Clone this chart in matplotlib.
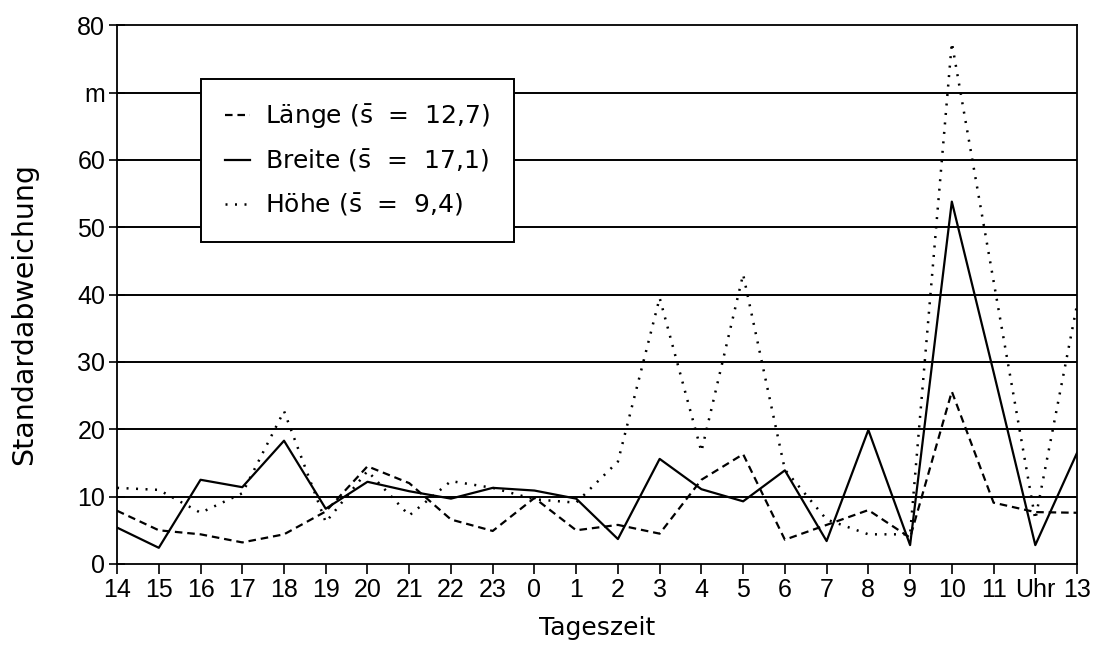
import matplotlib
matplotlib.use("Agg")
from matplotlib import pyplot as plt
import numpy as np

# Tageszeit labels (hour of day, "Uhr" stands in for 12)
hours = ['14', '15', '16', '17', '18', '19', '20', '21', '22', '23', '0', '1',
         '2', '3', '4', '5', '6', '7', '8', '9', '10', '11', 'Uhr', '13']

laenge = [7.9, 5.0, 4.4, 3.2, 4.4, 7.8, 14.5, 12.0, 6.6, 4.9, 9.8, 5.0,
          5.8, 4.5, 12.5, 16.3, 3.6, 5.8, 8.0, 3.9, 25.6, 9.1, 7.7, 7.6]
breite = [5.4, 2.4, 12.5, 11.4, 18.3, 8.2, 12.2, 10.8, 9.7, 11.3, 10.9, 9.7,
          3.7, 15.6, 11.1, 9.3, 13.9, 3.4, 19.9, 2.8, 53.8, 28.5, 2.8, 16.5]
hoehe = [11.3, 11.0, 7.6, 10.5, 22.7, 6.2, 13.8, 7.2, 12.3, 11.3, 9.6, 9.1,
         15.2, 39.5, 16.7, 43.0, 14.0, 6.6, 4.4, 4.4, 77.4, 42.0, 6.6, 38.5]

y_ticks = [0, 10, 20, 30, 40, 50, 60, 70, 80]
y_ticklabels = ['0', '10', '20', '30', '40', '50', '60', 'm', '80']

plt.rcParams['mathtext.fontset'] = 'dejavusans'

fig = plt.figure(figsize=(10.94, 6.46), dpi=100)
ax = fig.add_axes([0.107, 0.127, 0.8775, 0.834])

x = np.arange(len(hours))
ax.plot(x, laenge, color='black', lw=1.6, dashes=(3.4, 2.2),
        label=r'Länge ($\bar{\mathrm{s}}$  =  12,7)')
ax.plot(x, breite, color='black', lw=1.6, linestyle='-',
        label=r'Breite ($\bar{\mathrm{s}}$  =  17,1)')
ax.plot(x, hoehe, color='black', lw=1.8, dashes=(0.8, 3.0),
        label=r'Höhe ($\bar{\mathrm{s}}$  =  9,4)')

for yv in y_ticks[1:-1]:
    ax.axhline(yv, color='black', lw=1.4, zorder=0)

ax.set_xlim(0, len(hours) - 1)
ax.set_ylim(0, 80)
ax.set_xticks(x)
ax.set_xticklabels(hours, family='Liberation Sans')
ax.set_yticks(y_ticks)
ax.set_yticklabels(y_ticklabels, family='Liberation Sans')
ax.tick_params(axis='y', direction='inout', length=11, width=1.2,
               labelsize=18, pad=3)
ax.tick_params(axis='x', direction='out', length=7, width=1.2,
               labelsize=18, pad=3)
for sp in ax.spines.values():
    sp.set_linewidth(1.3)

ax.set_ylabel('Standardabweichung', fontsize=20.5)
ax.yaxis.set_label_coords(-0.082, 0.464)
ax.set_xlabel('Tageszeit', fontsize=18, labelpad=10)

leg = ax.legend(loc='upper left', bbox_to_anchor=(0.0875, 0.9),
                borderaxespad=0, fontsize=18, handlelength=1.0,
                handletextpad=0.6, labelspacing=0.7, borderpad=0.95,
                fancybox=False, framealpha=1, edgecolor='black')
leg.get_frame().set_linewidth(1.4)

fig.savefig('out.png', dpi=100)
